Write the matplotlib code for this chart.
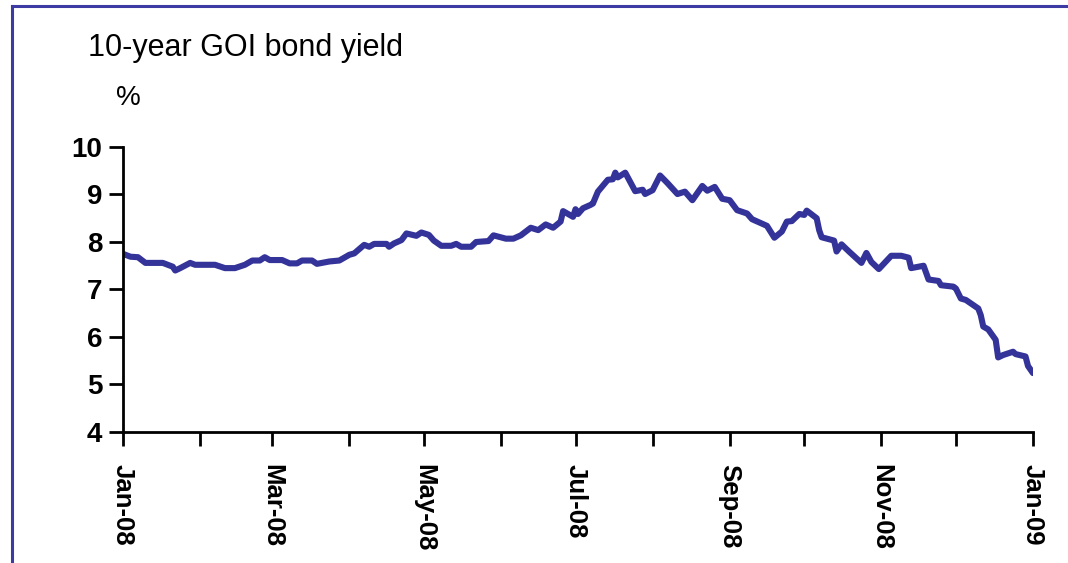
import matplotlib
matplotlib.use('Agg')
import matplotlib.pyplot as plt
import matplotlib.dates as mdates
import pandas as pd
from matplotlib.lines import Line2D

plt.rcParams['font.family'] = ['Liberation Sans', 'DejaVu Sans']

# %% data
dates = [
    '2008-01-01', '2008-01-04', '2008-01-07', '2008-01-10', '2008-01-17', '2008-01-21',
    '2008-01-22', '2008-01-24', '2008-01-28', '2008-01-30', '2008-02-07', '2008-02-11',
    '2008-02-15', '2008-02-19', '2008-02-22', '2008-02-25', '2008-02-27', '2008-02-29',
    '2008-03-05', '2008-03-08', '2008-03-11', '2008-03-13', '2008-03-17', '2008-03-19',
    '2008-03-24', '2008-03-28', '2008-04-01', '2008-04-03', '2008-04-07', '2008-04-09',
    '2008-04-11', '2008-04-16', '2008-04-17', '2008-04-19', '2008-04-22', '2008-04-24',
    '2008-04-28', '2008-04-30', '2008-05-03', '2008-05-05', '2008-05-08', '2008-05-12',
    '2008-05-14', '2008-05-16', '2008-05-20', '2008-05-22', '2008-05-27', '2008-05-29',
    '2008-06-03', '2008-06-06', '2008-06-09', '2008-06-13', '2008-06-16', '2008-06-19',
    '2008-06-22', '2008-06-25', '2008-06-26', '2008-06-30', '2008-07-01', '2008-07-02',
    '2008-07-04', '2008-07-07', '2008-07-08', '2008-07-10', '2008-07-14', '2008-07-16',
    '2008-07-17', '2008-07-18', '2008-07-21', '2008-07-25', '2008-07-28', '2008-07-29',
    '2008-08-01', '2008-08-04', '2008-08-07', '2008-08-11', '2008-08-14', '2008-08-17',
    '2008-08-21', '2008-08-23', '2008-08-26', '2008-08-29', '2008-09-01', '2008-09-04',
    '2008-09-08', '2008-09-10', '2008-09-16', '2008-09-19', '2008-09-22', '2008-09-24',
    '2008-09-26', '2008-09-29', '2008-10-01', '2008-10-02', '2008-10-06', '2008-10-07',
    '2008-10-08', '2008-10-13', '2008-10-14', '2008-10-16', '2008-10-19', '2008-10-24',
    '2008-10-26', '2008-10-28', '2008-10-31', '2008-11-05', '2008-11-09', '2008-11-12',
    '2008-11-13', '2008-11-18', '2008-11-20', '2008-11-24', '2008-11-25', '2008-11-30',
    '2008-12-01', '2008-12-03', '2008-12-05', '2008-12-10', '2008-12-11', '2008-12-12',
    '2008-12-14', '2008-12-17', '2008-12-18', '2008-12-20', '2008-12-24', '2008-12-25',
    '2008-12-29', '2008-12-30', '2009-01-01',
]
yields = [
    7.75, 7.69, 7.68, 7.56, 7.56, 7.48,
    7.40, 7.45, 7.56, 7.52, 7.52, 7.45,
    7.45, 7.52, 7.61, 7.61, 7.68, 7.62,
    7.62, 7.55, 7.55, 7.61, 7.61, 7.54,
    7.59, 7.61, 7.73, 7.76, 7.94, 7.90,
    7.96, 7.96, 7.90, 7.97, 8.04, 8.18,
    8.13, 8.20, 8.15, 8.03, 7.92, 7.92,
    7.96, 7.90, 7.90, 8.00, 8.02, 8.14,
    8.07, 8.07, 8.14, 8.30, 8.25, 8.37,
    8.30, 8.43, 8.65, 8.53, 8.69, 8.59,
    8.71, 8.78, 8.81, 9.06, 9.31, 9.32,
    9.46, 9.36, 9.46, 9.07, 9.10, 9.01,
    9.09, 9.40, 9.24, 9.01, 9.06, 8.88,
    9.18, 9.08, 9.16, 8.91, 8.88, 8.67,
    8.60, 8.48, 8.34, 8.09, 8.22, 8.43,
    8.44, 8.59, 8.57, 8.66, 8.50, 8.25,
    8.10, 8.03, 7.80, 7.95, 7.80, 7.56,
    7.77, 7.58, 7.43, 7.71, 7.71, 7.67,
    7.45, 7.50, 7.21, 7.18, 7.09, 7.06,
    7.02, 6.81, 6.78, 6.60, 6.46, 6.22,
    6.16, 5.94, 5.57, 5.62, 5.69, 5.64,
    5.59, 5.39, 5.24,
]
yticks = [4, 5, 6, 7, 8, 9, 10]

dates = pd.to_datetime(dates)

# %% plot
fig = plt.figure(figsize=(10.68, 5.63), dpi=100)
ax = fig.add_axes([0.1152, 0.2327, 0.852, 0.5062])

ax.plot(dates, yields, color='#333399', linewidth=4.4, solid_joinstyle='round',
        solid_capstyle='round')

ax.set_xlim(pd.Timestamp('2008-01-01'), pd.Timestamp('2009-01-01'))
ax.set_ylim(4, 10)
ax.set_yticks(yticks)

ax.xaxis.set_major_locator(mdates.MonthLocator(bymonth=[1, 3, 5, 7, 9, 11]))
ax.xaxis.set_major_formatter(mdates.DateFormatter('%b-%y'))
ax.xaxis.set_minor_locator(mdates.MonthLocator())

for s in ['top', 'right']:
    ax.spines[s].set_visible(False)
for s in ['left', 'bottom']:
    ax.spines[s].set_linewidth(2)

ax.tick_params(axis='y', which='major', length=10, width=2, labelsize=20, pad=5)
ax.tick_params(axis='x', which='both', length=10, width=2, labelsize=18.5, pad=13)
plt.setp(ax.get_xticklabels(), rotation=270, ha='center', va='top', fontweight='bold')
plt.setp(ax.get_yticklabels(), fontweight='bold')

fig.text(88 / 1068, 1 - 56 / 563, '10-year GOI bond yield', fontsize=22, ha='left', va='baseline')
fig.text(116 / 1068, 1 - 105 / 563, '%', fontsize=20, ha='left', va='baseline')

# blue frame (left and top edges)
fc = '#3b3ba3'
fig.add_artist(Line2D([12 / 1068, 12 / 1068], [0, 1 - 6 / 563], color=fc, linewidth=2.2))
fig.add_artist(Line2D([12 / 1068, 1], [1 - 6 / 563, 1 - 6 / 563], color=fc, linewidth=2.2))

fig.savefig('out.png', dpi=100)
